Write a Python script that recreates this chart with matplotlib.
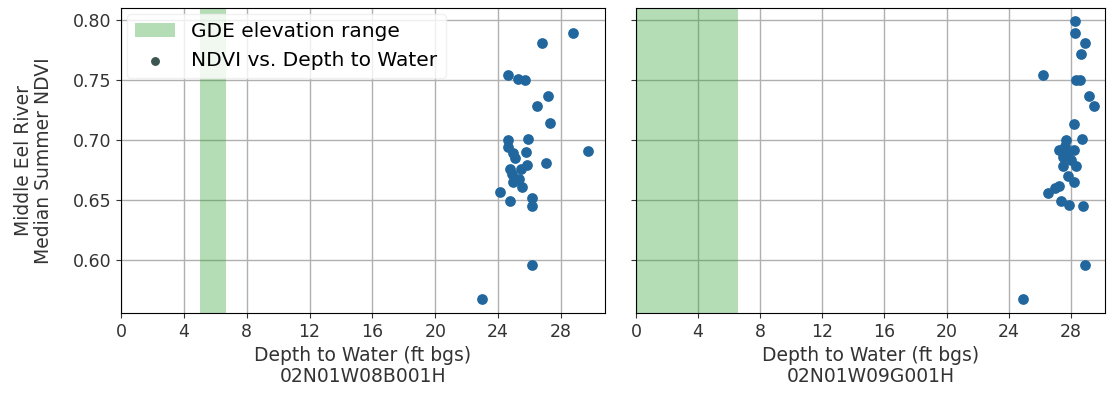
import matplotlib
matplotlib.use("Agg")
import matplotlib.pyplot as plt

# well 02N01W08B001H
dtw_08b = [28.77, 26.76, 24.64, 25.28, 25.70, 27.14, 26.50, 27.29, 29.73, 24.60,
           25.91, 24.64, 24.96, 25.76, 27.04, 24.75, 25.81, 25.45, 24.85, 24.96,
           25.49, 24.11, 24.75, 26.13, 26.13, 26.13, 22.95, 25.10, 25.35]
ndvi_08b = [0.789, 0.781, 0.754, 0.751, 0.750, 0.737, 0.728, 0.714, 0.691, 0.700,
            0.701, 0.694, 0.689, 0.690, 0.681, 0.676, 0.679, 0.676, 0.672, 0.665,
            0.661, 0.657, 0.649, 0.652, 0.645, 0.596, 0.568, 0.685, 0.668]

# well 02N01W09G001H
dtw_09g = [28.27, 28.27, 28.94, 28.66, 26.19, 28.60, 28.35, 29.15, 29.52, 28.23,
           28.73, 27.70, 27.27, 28.23, 27.48, 28.00, 28.34, 27.48, 28.23, 27.80,
           27.27, 26.51, 26.95, 27.38, 27.87, 28.81, 28.94, 24.95, 27.75, 27.60]
ndvi_09g = [0.799, 0.789, 0.781, 0.772, 0.754, 0.750, 0.750, 0.737, 0.728, 0.713,
            0.701, 0.700, 0.692, 0.692, 0.686, 0.683, 0.678, 0.678, 0.665, 0.670,
            0.662, 0.656, 0.660, 0.649, 0.646, 0.645, 0.596, 0.568, 0.688, 0.695]

gde_08b = (5.0, 6.7)
gde_09g = (0.0, 6.6)

well_names = ["02N01W08B001H", "02N01W09G001H"]
x_ticks = [0, 4, 8, 12, 16, 20, 24, 28]
y_ticks = [0.60, 0.65, 0.70, 0.75, 0.80]

plt.rcParams['font.size'] = 12.5

fig = plt.figure(figsize=(11.13, 3.98), dpi=100)
ax1 = fig.add_axes([0.1087, 0.2136, 0.4349, 0.7663])
ax2 = fig.add_axes([0.5714, 0.2136, 0.4214, 0.7663], sharey=ax1)

panels = [(ax1, dtw_08b, ndvi_08b, gde_08b, 30.8),
          (ax2, dtw_09g, ndvi_09g, gde_09g, 30.2)]

for i, (ax, dtw, ndvi, gde, xmax) in enumerate(panels):
    ax.set_axisbelow(True)
    ax.grid(True, color='#b0b0b0', linewidth=1.0)
    ax.axvspan(gde[0], gde[1], color='tab:green', alpha=0.35, lw=0,
               label='GDE elevation range')
    ax.scatter(dtw, ndvi, s=45, color='#21679e', zorder=3,
               label='NDVI vs. Depth to Water')
    ax.set_xlim(0, xmax)
    ax.set_xticks(x_ticks)
    ax.set_xlabel('Depth to Water (ft bgs)\n' + well_names[i], color='#333333',
                  fontsize=13.5, linespacing=1.1)
    ax.tick_params(colors='#333333')

ax1.set_ylim(0.556, 0.81)
ax1.set_yticks(y_ticks)
ax1.set_yticklabels([f"{v:.2f}" for v in y_ticks])
ax1.set_ylabel('Middle Eel River\nMedian Summer NDVI', color='#333333',
               fontsize=13.5, labelpad=14, linespacing=1.1)
ax2.tick_params(axis='y', labelleft=False)

leg = ax1.legend(loc='upper left', fontsize=14.5, borderaxespad=0.3,
                 markerscale=0.8, edgecolor='#eeeeee')
leg.legend_handles[1].set_color('#3b5650')

plt.savefig('out.png', dpi=100)
